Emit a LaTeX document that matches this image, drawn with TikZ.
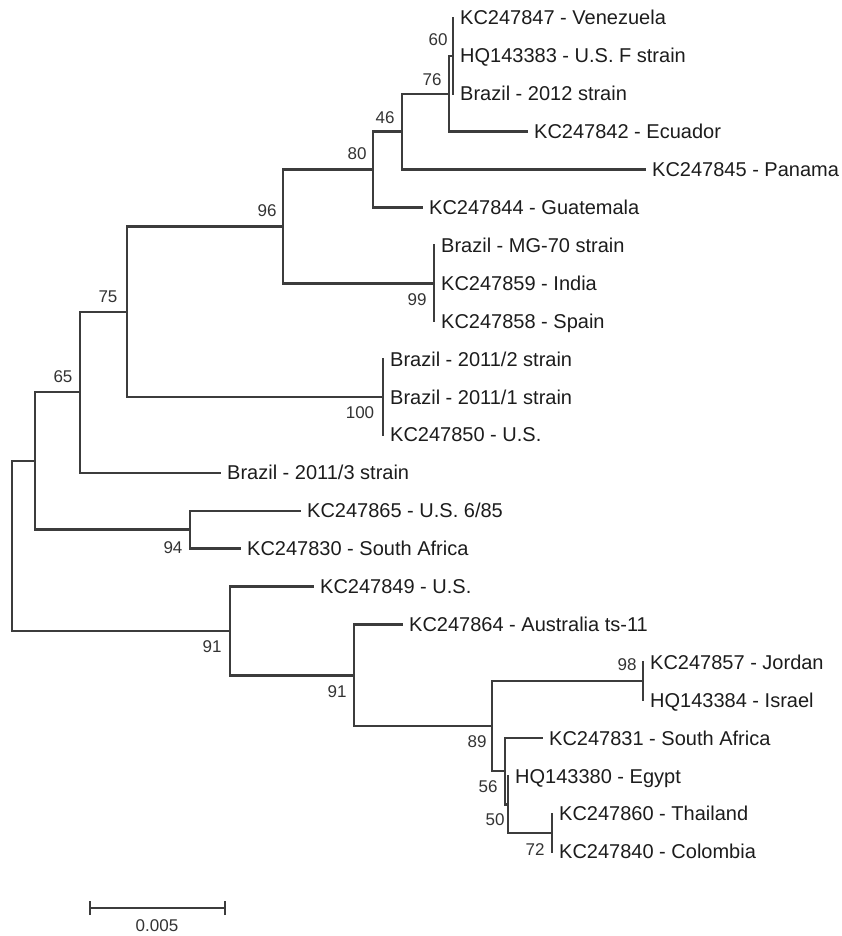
\documentclass[tikz,border=0pt]{standalone}
\usepackage{fontspec}
\setmainfont{Liberation Sans}
\definecolor{branch}{HTML}{3C3C3C}
\definecolor{txt}{HTML}{1C1C1C}
\definecolor{boot}{HTML}{333333}
\tikzset{
  taxon/.style={anchor=west, inner xsep=7pt, inner ysep=0pt, text height=14pt, text depth=0pt, text=txt, font=\fontsize{20}{24}\selectfont},
  bootlbl/.style={inner sep=0pt, text=boot, font=\fontsize{17}{20}\selectfont},
  br/.style={draw=branch, line width=2.4pt, line cap=rect},
}
\begin{document}
\begin{tikzpicture}[x=1pt,y=-1pt]
\useasboundingbox (0,0) rectangle (842,936);
% ---- internal nodes ----
\coordinate (n60) at (453,55.9);
\coordinate (n76) at (449,93.8);
\coordinate (n46) at (402,131.7);
\coordinate (n80) at (373,169.6);
\coordinate (n99) at (434,283.3);
\coordinate (n96) at (283,226.45);
\coordinate (n100) at (383,397);
\coordinate (n75) at (127,311.7);
\coordinate (n65) at (80,392.25);
\coordinate (n94) at (190,529.65);
\coordinate (nA) at (35,460.95);
\coordinate (n98) at (643,681.25);
\coordinate (n72) at (552,832.85);
\coordinate (n50) at (508,804.4);
\coordinate (n56) at (505,771.25);
\coordinate (n89) at (492,726.25);
\coordinate (n91b) at (354,675.3);
\coordinate (n91a) at (230,630.9);
\coordinate (root) at (12,545.9);
% ---- taxa ----
\node[taxon] (tVen) at (453,18) {KC247847 - Venezuela};
\node[taxon] (tUSF) at (453,55.9) {HQ143383 - U.S. F strain};
\node[taxon] (tB12) at (453,93.8) {Brazil - 2012 strain};
\node[taxon] (tEcu) at (527,131.7) {KC247842 - Ecuador};
\node[taxon] (tPan) at (645,169.6) {KC247845 - Panama};
\node[taxon] (tGua) at (422,207.5) {KC247844 - Guatemala};
\node[taxon] (tMG) at (434,245.4) {Brazil - MG-70 strain};
\node[taxon] (tInd) at (434,283.3) {KC247859 - India};
\node[taxon] (tSpa) at (434,321.2) {KC247858 - Spain};
\node[taxon] (tB112) at (383,359.1) {Brazil - 2011/2 strain};
\node[taxon] (tB111) at (383,397) {Brazil - 2011/1 strain};
\node[taxon] (tUS50) at (383,434.9) {KC247850 - U.S.};
\node[taxon] (tB113) at (220,472.8) {Brazil - 2011/3 strain};
\node[taxon] (tUS65) at (300,510.7) {KC247865 - U.S. 6/85};
\node[taxon] (tSA30) at (240,548.6) {KC247830 - South Africa};
\node[taxon] (tUS49) at (313,586.5) {KC247849 - U.S.};
\node[taxon] (tAus) at (402,624.4) {KC247864 - Australia ts-11};
\node[taxon] (tJor) at (643,662.3) {KC247857 - Jordan};
\node[taxon] (tIsr) at (643,700.2) {HQ143384 - Israel};
\node[taxon] (tSA31) at (542,738.1) {KC247831 - South Africa};
\node[taxon] (tEgy) at (508,776) {HQ143380 - Egypt};
\node[taxon] (tTha) at (552,813.9) {KC247860 - Thailand};
\node[taxon] (tCol) at (552,851.8) {KC247840 - Colombia};
% ---- branches ----
\draw[br] (n60) |- (tVen.west);
\draw[br] (n60) |- (tB12.west);
\draw[br] (n76) |- (n60);
\draw[br] (n76) |- (tEcu.west);
\draw[br] (n46) |- (n76);
\draw[br] (n46) |- (tPan.west);
\draw[br] (n80) |- (n46);
\draw[br] (n80) |- (tGua.west);
\draw[br] (n99) |- (tMG.west);
\draw[br] (n99) |- (tSpa.west);
\draw[br] (n96) |- (n80);
\draw[br] (n96) |- (n99);
\draw[br] (n100) |- (tB112.west);
\draw[br] (n100) |- (tUS50.west);
\draw[br] (n75) |- (n96);
\draw[br] (n75) |- (n100);
\draw[br] (n65) |- (n75);
\draw[br] (n65) |- (tB113.west);
\draw[br] (n94) |- (tUS65.west);
\draw[br] (n94) |- (tSA30.west);
\draw[br] (nA) |- (n65);
\draw[br] (nA) |- (n94);
\draw[br] (n98) |- (tJor.west);
\draw[br] (n98) |- (tIsr.west);
\draw[br] (n72) |- (tTha.west);
\draw[br] (n72) |- (tCol.west);
\draw[br] (n50) |- (tEgy.west);
\draw[br] (n50) |- (n72);
\draw[br] (n56) |- (tSA31.west);
\draw[br] (n56) |- (n50);
\draw[br] (n89) |- (n98);
\draw[br] (n89) |- (n56);
\draw[br] (n91b) |- (tAus.west);
\draw[br] (n91b) |- (n89);
\draw[br] (n91a) |- (tUS49.west);
\draw[br] (n91a) |- (n91b);
\draw[br] (root) |- (nA);
\draw[br] (root) |- (n91a);
% ---- bootstrap values ----
\node[bootlbl] (b60) at (438,40) {60};
\node[bootlbl] (b76) at (432,80) {76};
\node[bootlbl] (b46) at (385,118) {46};
\node[bootlbl] (b80) at (357,154) {80};
\node[bootlbl] (b96) at (267,211) {96};
\node[bootlbl] (b99) at (417,300) {99};
\node[bootlbl] (b100) at (360,413) {100};
\node[bootlbl] (b75) at (108,297) {75};
\node[bootlbl] (b65) at (63,377) {65};
\node[bootlbl] (b94) at (173,548) {94};
\node[bootlbl] (b91a) at (212,647) {91};
\node[bootlbl] (b91b) at (337,692) {91};
\node[bootlbl] (b98) at (627,665) {98};
\node[bootlbl] (b89) at (477,742) {89};
\node[bootlbl] (b56) at (488,787) {56};
\node[bootlbl] (b50) at (495,820) {50};
\node[bootlbl] (b72) at (535,850) {72};
% ---- scale bar ----
\coordinate (sbL) at (90,908);
\coordinate (sbR) at (225,908);
\draw[br, line cap=butt] (sbL) -- (sbR);
\draw[br, line cap=butt] ([yshift=-7pt]sbL) -- ([yshift=7pt]sbL);
\draw[br, line cap=butt] ([yshift=-7pt]sbR) -- ([yshift=7pt]sbR);
\node[bootlbl] (sbT) at (157,926) {0.005};
\end{tikzpicture}
\end{document}
